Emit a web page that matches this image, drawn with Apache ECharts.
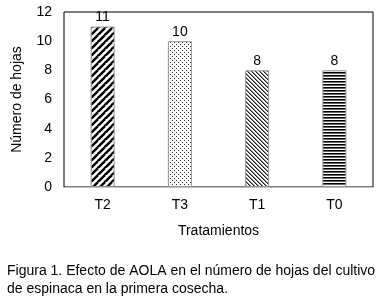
<!DOCTYPE html>
<html><head><meta charset="utf-8">
<script src="https://cdn.jsdelivr.net/npm/echarts@6/dist/echarts.min.js"></script>
<style>html,body{margin:0;padding:0;background:#fff}#c{width:379px;height:302px}</style>
</head><body><div id="c"></div>
<script>
var categories = ['T2', 'T3', 'T1', 'T0'];
var values = [11, 10, 8, 8];
var yTicks = [0, 2, 4, 6, 8, 10, 12];
var caption = 'Figura 1. Efecto de AOLA en el número de hojas del cultivo\nde espinaca en la primera cosecha.';

function mk(w, h, draw) {
  var c = document.createElement('canvas');
  c.width = w; c.height = h;
  var g = c.getContext('2d');
  g.fillStyle = '#fff'; g.fillRect(0, 0, w, h);
  draw(g);
  return {image: c, repeat: 'repeat'};
}
var patT2 = mk(7, 7, function (g) {
  g.strokeStyle = '#000'; g.lineWidth = 2.4;
  [[-7, 7], [0, 7], [7, 7]].forEach(function (o) {
    g.beginPath(); g.moveTo(o[0], o[1]); g.lineTo(o[0] + 7, o[1] - 7); g.stroke();
  });
  g.beginPath(); g.moveTo(0, 14); g.lineTo(14, 0); g.stroke();
});
var patT3 = mk(4, 4, function (g) {
  g.fillStyle = '#222';
  g.fillRect(0, 0, 1, 1); g.fillRect(2, 2, 1, 1);
});
var patT1 = mk(4, 4, function (g) {
  g.fillStyle = '#222';
  for (var i = 0; i < 4; i++) { g.fillRect(i, i, 1, 1); }
  g.fillStyle = '#888';
  for (var j = 0; j < 4; j++) { g.fillRect((j + 1) % 4, j, 1, 1); }
});
var patT0 = mk(4, 3, function (g) {
  g.fillStyle = '#000';
  g.fillRect(0, 0, 4, 1.6);
});
var patterns = [patT2, patT3, patT1, patT0];

var FONT = 'Liberation Sans, Arial, sans-serif';
var chart = echarts.init(document.getElementById('c'), null, {renderer: 'canvas'});
chart.setOption({
  animation: false,
  textStyle: {fontFamily: FONT},
  title: {
    text: caption, left: 7, top: 262, padding: 0,
    textStyle: {fontSize: 14, fontWeight: 'normal', color: '#000', lineHeight: 18, fontFamily: FONT}
  },
  grid: {left: 64, right: 6, top: 12, bottom: 115, show: true, borderColor: '#000', borderWidth: 1, backgroundColor: 'transparent'},
  xAxis: {
    type: 'category', data: categories,
    name: 'Tratamientos', nameLocation: 'middle', nameGap: 37,
    nameTextStyle: {fontSize: 14, color: '#000'},
    axisLine: {lineStyle: {color: '#bfbfbf', width: 1}},
    axisTick: {show: false},
    axisLabel: {fontSize: 14, color: '#000', margin: 11}
  },
  yAxis: {
    type: 'value', min: yTicks[0], max: yTicks[yTicks.length - 1], interval: yTicks[1] - yTicks[0],
    name: 'Número de hojas', nameLocation: 'middle', nameGap: 40,
    nameTextStyle: {fontSize: 14, color: '#000'},
    axisLine: {show: false}, axisTick: {show: false}, splitLine: {show: false},
    axisLabel: {fontSize: 14, color: '#000', margin: 12}
  },
  series: [{
    type: 'bar', barWidth: 24,
    data: values.map(function (v, i) {
      return {value: v, itemStyle: {color: patterns[i], borderColor: '#8c9c8c', borderWidth: 1}};
    }),
    label: {show: true, position: 'top', distance: 2, fontSize: 14, color: '#000'}
  }]
});
</script></body></html>
